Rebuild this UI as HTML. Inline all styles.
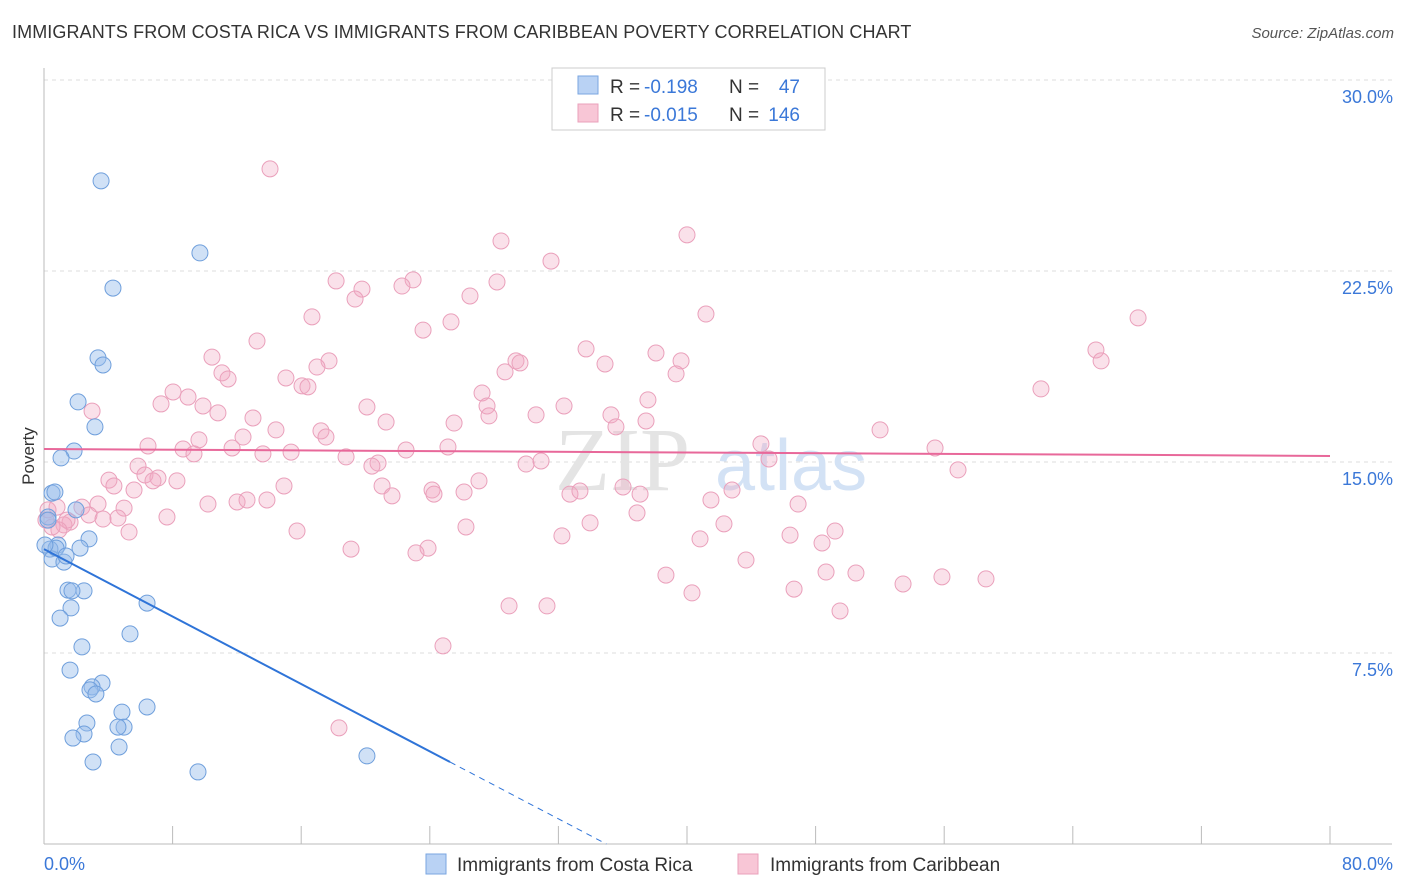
<!DOCTYPE html>
<html><head><meta charset="utf-8">
<style>
body{margin:0;background:#fff;font-family:"Liberation Sans",sans-serif;}
#wrap{position:relative;width:1406px;height:892px;overflow:hidden;}
.t{position:absolute;white-space:nowrap;}
</style></head>
<body>
<div id="wrap">
<div class="t" style="left:12px;top:22px;font-size:18px;color:#333;letter-spacing:0.1px">IMMIGRANTS FROM COSTA RICA VS IMMIGRANTS FROM CARIBBEAN POVERTY CORRELATION CHART</div>
<div class="t" style="right:12px;top:25px;font-size:15px;color:#555;font-style:italic">Source: ZipAtlas.com</div>
<svg id="chart" width="1406" height="892" style="position:absolute;left:0;top:0"></svg>
</div>
<script>
const xTickLabels=["0.0%","80.0%"];
const yTickVals=[7.5,15,22.5,30];
const yTickLabels=["7.5%","15.0%","22.5%","30.0%"];
const blueX=[3.55,9.70,4.29,3.36,3.67,2.12,3.17,1.87,1.06,0.50,0.68,0.25,1.99,2.80,0.87,2.24,0.37,0.50,1.24,1.49,2.49,1.74,1.68,1.00,6.41,5.35,2.36,1.62,3.61,2.99,2.86,3.23,6.41,4.85,2.67,4.98,4.60,2.49,1.80,4.67,3.05,9.58,20.09,0.25,0.75,0.06,1.37];
const blueY=[26.04,23.21,21.83,19.09,18.81,17.36,16.38,15.43,15.16,13.78,13.82,12.84,13.12,11.98,11.74,11.62,11.58,11.19,11.07,9.97,9.94,9.94,9.27,8.87,9.46,8.25,7.74,6.83,6.32,6.17,6.05,5.89,5.38,5.18,4.75,4.59,4.59,4.32,4.16,3.81,3.22,2.83,3.46,12.72,11.62,11.74,11.31];
const pinkX=[14.06,28.43,40.00,31.54,18.17,22.96,28.18,19.78,19.35,22.27,26.50,16.67,25.32,23.58,41.18,68.06,13.25,10.45,33.72,38.07,39.63,34.90,29.36,29.61,17.73,16.98,65.44,65.76,11.07,11.45,15.05,16.05,16.42,28.68,39.32,62.02,8.03,8.96,7.28,9.89,10.82,20.09,27.25,27.56,32.35,37.57,2.99,13.00,21.28,25.51,27.68,30.61,35.27,35.58,37.45,52.01,14.43,17.23,17.54,12.38,6.47,9.64,8.65,9.33,11.70,13.62,15.37,18.79,22.52,25.13,44.60,55.43,45.10,5.85,6.28,7.09,6.78,8.27,4.04,4.35,5.60,20.78,20.40,29.99,30.92,56.86,21.03,21.65,14.93,24.14,24.26,26.13,27.06,32.72,33.34,36.02,37.08,42.80,41.49,3.36,2.36,2.80,4.98,12.01,12.63,13.87,10.20,46.91,7.65,4.60,3.67,1.62,1.24,1.43,0.93,5.29,15.74,26.25,33.97,36.89,42.30,32.22,40.81,46.41,49.21,48.40,19.10,23.89,23.14,43.67,38.69,48.65,50.51,53.44,55.86,58.60,40.31,46.66,28.93,31.29,49.52,24.82,18.35,0.25,0.50,0.12,0.81];
const pinkY=[26.51,23.68,23.92,22.89,22.11,22.15,22.07,21.79,21.40,21.91,21.52,20.70,20.50,20.18,20.81,20.66,19.75,19.12,19.44,19.28,18.97,18.85,18.97,18.89,18.97,18.73,19.40,18.97,18.50,18.26,18.30,17.99,17.95,18.54,18.46,17.87,17.75,17.55,17.28,17.20,16.93,17.16,17.71,17.20,17.20,17.44,17.00,16.73,16.57,16.53,16.81,16.85,16.85,16.38,16.61,16.26,16.26,16.22,15.98,15.98,15.63,15.87,15.51,15.32,15.55,15.32,15.39,15.20,15.47,15.59,15.71,15.55,15.12,14.84,14.49,14.37,14.26,14.26,14.29,14.06,13.90,14.96,14.84,14.92,15.04,14.69,14.06,13.67,14.06,13.90,13.74,13.82,14.26,13.74,13.86,14.02,13.74,13.90,13.51,13.35,13.23,12.92,13.19,13.43,13.51,13.51,13.35,13.35,12.84,12.80,12.76,12.64,12.53,12.72,12.33,12.25,12.29,12.45,12.61,13.00,12.57,12.10,11.98,12.13,12.29,11.82,11.58,11.62,11.43,11.15,10.56,10.68,10.64,10.21,10.49,10.41,9.86,10.01,9.35,9.35,9.15,7.78,4.56,13.12,12.45,12.72,13.23];
const blueTrend=[11.58,-0.331];
const pinkTrend=[15.51,-0.0034];

const svg=document.getElementById('chart');
const NS='http://www.w3.org/2000/svg';
const X0=44,X1=1330,Y0=844,Y1=80;
const sx=v=>X0+(v/80)*(X1-X0);
const sy=v=>Y0-(v/30)*(Y0-Y1);
function mk(tag,attrs,parent){const e=document.createElementNS(NS,tag);for(const k in attrs)e.setAttribute(k,attrs[k]);(parent||svg).appendChild(e);return e;}

// gridlines
yTickVals.forEach((v,i)=>{
  const g=mk('line',{x1:X0,x2:1392,y1:sy(v),y2:sy(v),stroke:'#ddd','stroke-dasharray':'4,4'});
  
  
  const t=mk('text',{x:1393,y:sy(v)+23,'text-anchor':'end','font-size':18,fill:'#3b78d8','font-family':'Liberation Sans'});
  t.textContent=yTickLabels[i];
  
  
});
// axes
const ax=mk('line',{x1:X0,x2:1392,y1:Y0,y2:Y0,stroke:'#bbb'});


const ay=mk('line',{x1:X0,x2:X0,y1:68,y2:Y0,stroke:'#bbb'});


for(let i=0;i<=10;i++){
  const tk=mk('line',{x1:sx(i*8),x2:sx(i*8),y1:Y0-18,y2:Y0,stroke:'#bbb'});
  
  
}
[[0,'start',44],[80,'end',1393]].forEach((p,i)=>{
  const t=mk('text',{x:p[2],y:870,'text-anchor':p[1],'font-size':18,fill:'#3b78d8','font-family':'Liberation Sans'});
  t.textContent=xTickLabels[i];
  
  
});
const yt=mk('text',{x:34,y:456,'text-anchor':'middle','font-size':17,fill:'#333',transform:'rotate(-90 34 456)','font-family':'Liberation Sans'});
yt.textContent='Poverty';


// watermark
const wm=mk('text',{x:555,y:490,'font-size':90,fill:'#e4e4e4','font-family':'Liberation Serif'});
wm.textContent='ZIP';


const wm2=mk('text',{x:715,y:490,'font-size':72,fill:'#d3e2f5','font-family':'Liberation Sans'});
wm2.textContent='atlas';



// points
pinkX.forEach((x,i)=>{
  const c=mk('circle',{cx:sx(x),cy:sy(pinkY[i]),r:8,fill:'rgba(242,170,196,0.35)',stroke:'#eaa0bb','stroke-width':1});
  
  
});
blueX.forEach((x,i)=>{
  const c=mk('circle',{cx:sx(x),cy:sy(blueY[i]),r:8,fill:'rgba(150,188,236,0.45)',stroke:'#6f9fdc','stroke-width':1});
  
  
});
// trends
const bxEnd=25.26, bxZero=-blueTrend[0]/blueTrend[1];
const bl=mk('line',{x1:sx(0),y1:sy(blueTrend[0]),x2:sx(bxEnd),y2:sy(blueTrend[0]+blueTrend[1]*bxEnd),stroke:'#2f74d8','stroke-width':2});


const bd=mk('line',{x1:sx(bxEnd),y1:sy(blueTrend[0]+blueTrend[1]*bxEnd),x2:sx(bxZero),y2:sy(0),stroke:'#2f74d8','stroke-width':1,'stroke-dasharray':'6,5'});


const pl=mk('line',{x1:sx(0),y1:sy(pinkTrend[0]),x2:sx(80),y2:sy(pinkTrend[0]+pinkTrend[1]*80),stroke:'#e8689a','stroke-width':2});



// legend top
const lg=mk('g',{});


mk('rect',{x:552,y:68,width:273,height:62,fill:'#fff',stroke:'#ccc'},lg);
mk('rect',{x:578,y:76,width:20,height:18,fill:'#b9d2f4',stroke:'#7aa6e0'},lg);
mk('rect',{x:578,y:104,width:20,height:18,fill:'#f8c6d6',stroke:'#eaa0bb'},lg);
[[93,'-0.198','47'],[121,'-0.015','146']].forEach(r=>{
  let t=mk('text',{x:610,y:r[0],'font-size':19,fill:'#333','font-family':'Liberation Sans'},lg);t.textContent='R = ';
  t=mk('text',{x:644,y:r[0],'font-size':19,fill:'#3b78d8','font-family':'Liberation Sans'},lg);t.textContent=r[1];
  t=mk('text',{x:729,y:r[0],'font-size':19,fill:'#333','font-family':'Liberation Sans'},lg);t.textContent='N = ';
  t=mk('text',{x:800,y:r[0],'font-size':19,fill:'#3b78d8','text-anchor':'end','font-family':'Liberation Sans'},lg);t.textContent=r[2];
});
// bottom legend
const bl2=mk('g',{});


mk('rect',{x:426,y:854,width:20,height:20,fill:'#b9d2f4',stroke:'#7aa6e0'},bl2);
let lt=mk('text',{x:457,y:871,'font-size':19,fill:'#333','font-family':'Liberation Sans'},bl2);lt.textContent='Immigrants from Costa Rica';
mk('rect',{x:738,y:854,width:20,height:20,fill:'#f8c6d6',stroke:'#eaa0bb'},bl2);
lt=mk('text',{x:770,y:871,'font-size':19,fill:'#333','font-family':'Liberation Sans'},bl2);lt.textContent='Immigrants from Caribbean';
</script>
</body></html>
